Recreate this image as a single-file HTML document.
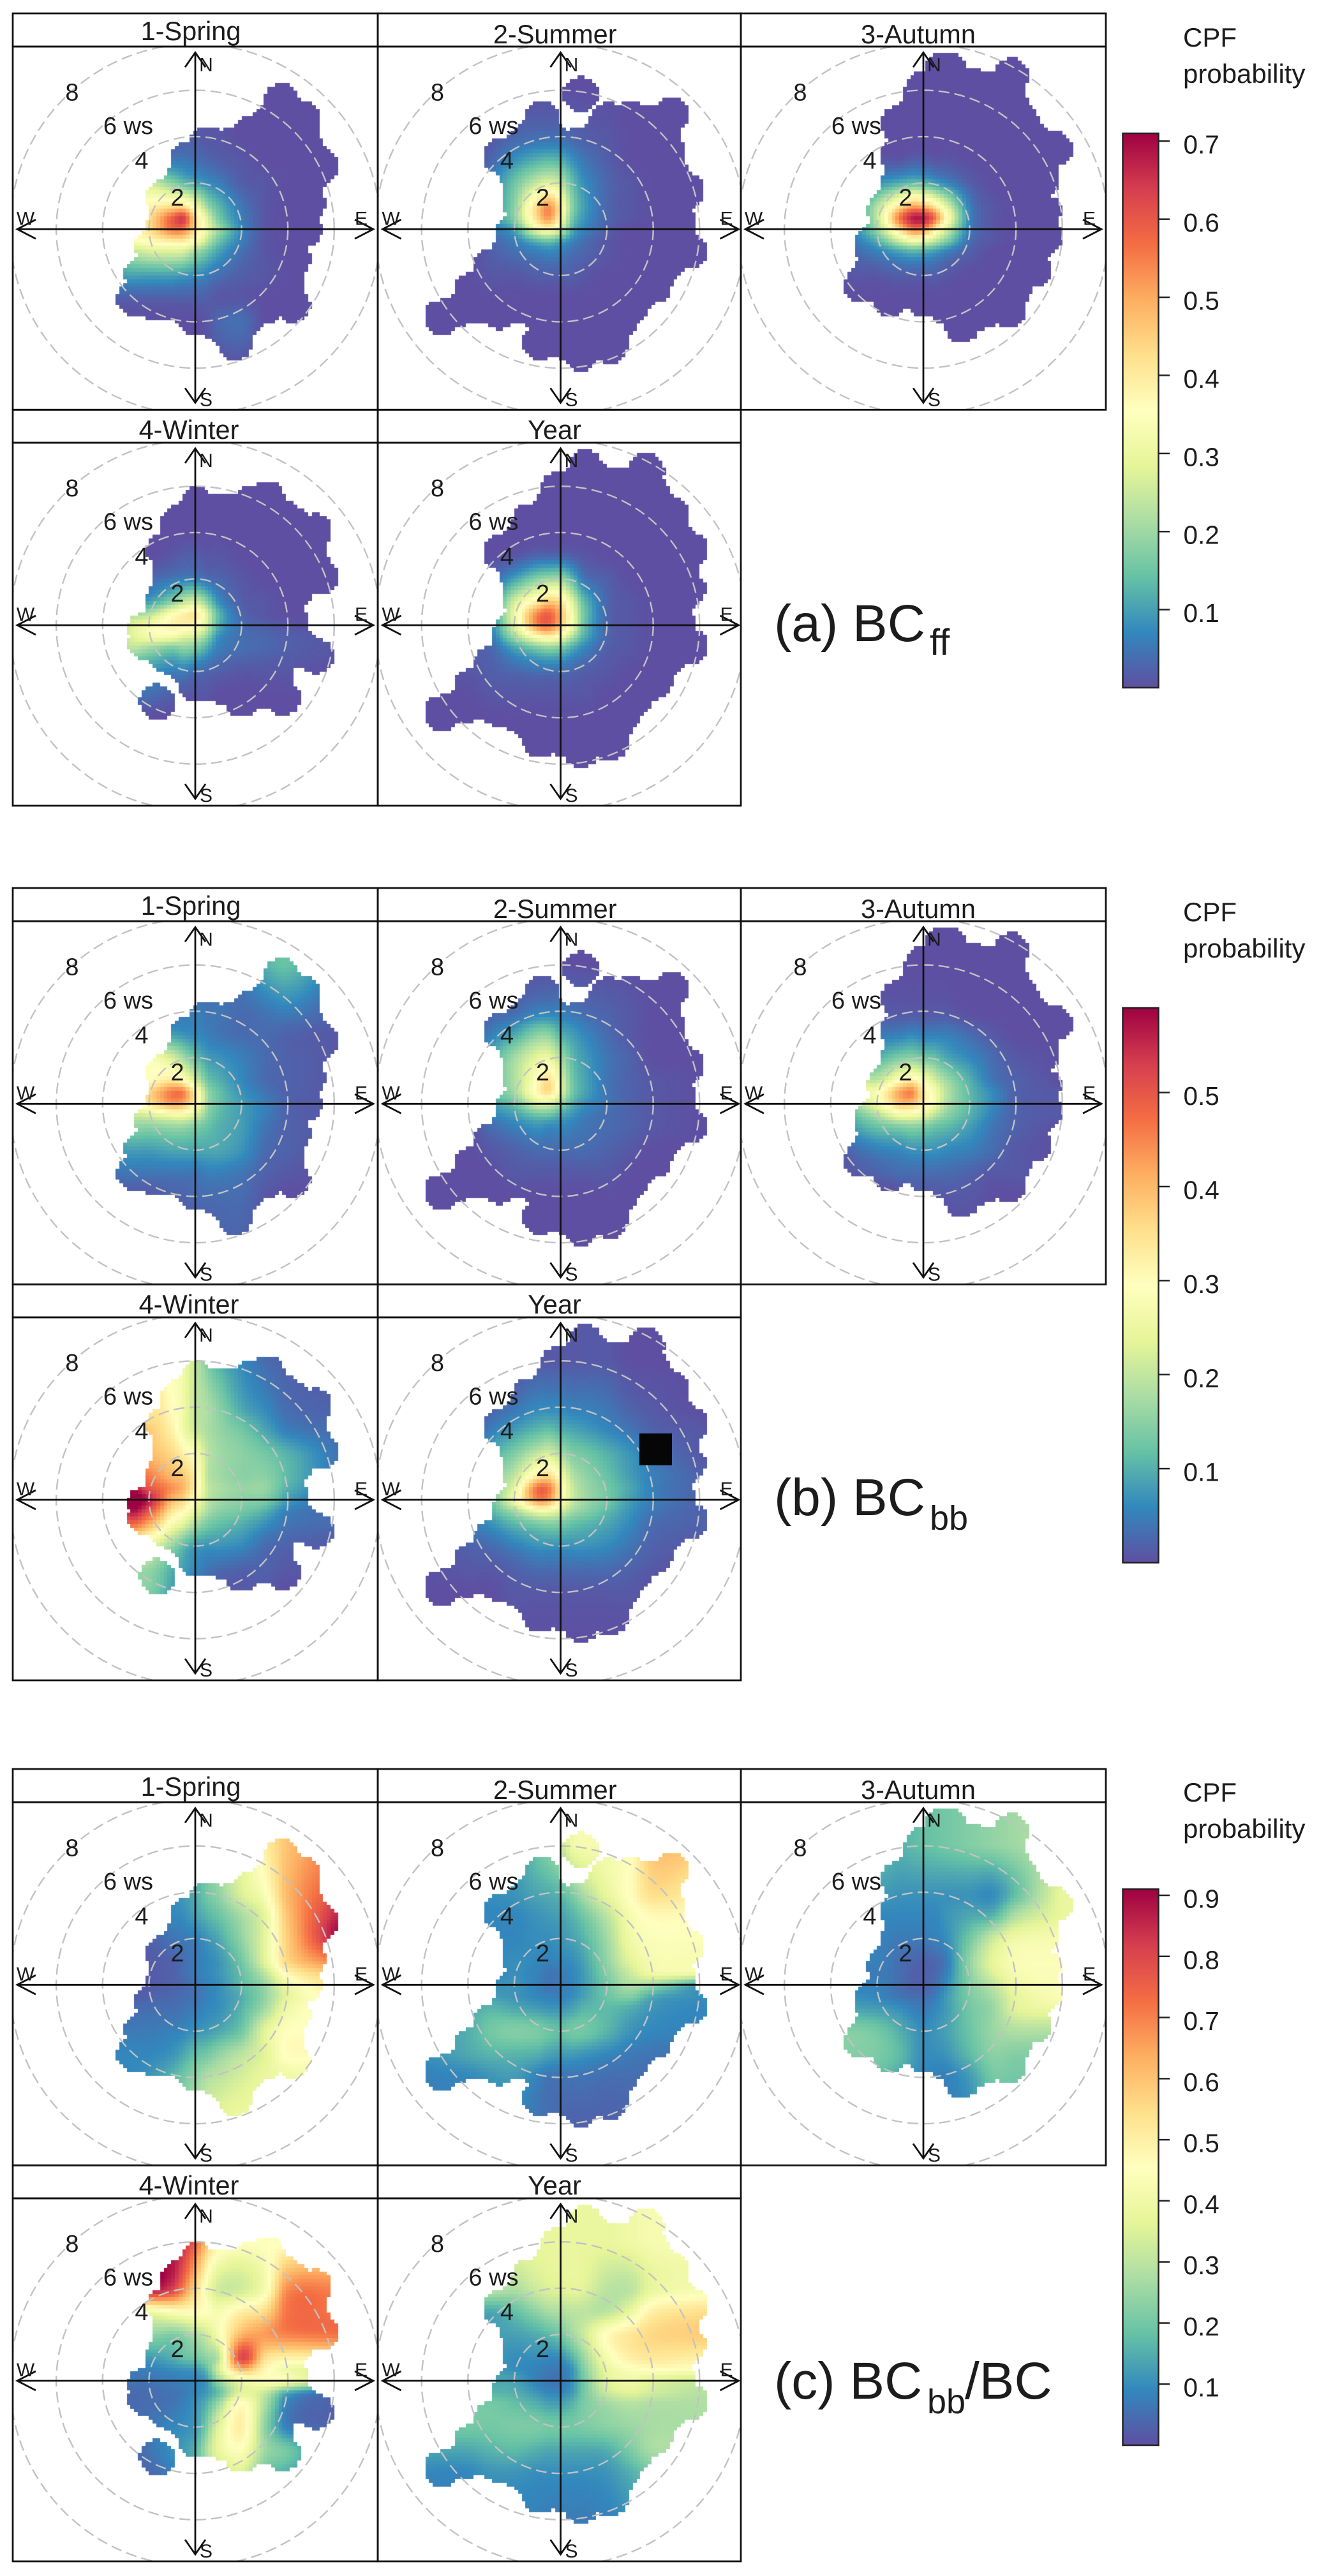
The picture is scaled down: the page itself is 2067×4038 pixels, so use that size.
<!DOCTYPE html>
<html lang="en">
<head>
<meta charset="utf-8">
<title>CPF probability polar plots of BC sources</title>
<style>
html,body{margin:0;padding:0;background:#fff;}
#stage{position:relative;width:2067px;height:4038px;overflow:hidden;background:#fff;}
#stage canvas{position:absolute;display:block;}
#overlay{position:absolute;left:0;top:0;}
text{font-family:"Liberation Sans",sans-serif;fill:#1c1c1c;}
</style>
</head>
<body>
<div id="stage">
<svg id="overlay" width="2067" height="4038" viewBox="0 0 2067 4038" xmlns="http://www.w3.org/2000/svg">
  <defs>
    <linearGradient id="spectralBar" x1="0" y1="1" x2="0" y2="0"></linearGradient>
  </defs>
  <text x="1854" y="73" font-size="42">CPF</text>
  <text x="1854" y="130" font-size="42">probability</text>
  <text x="1854" y="1444" font-size="42">CPF</text>
  <text x="1854" y="1501" font-size="42">probability</text>
  <text x="1854" y="2824" font-size="42">CPF</text>
  <text x="1854" y="2881" font-size="42">probability</text>

  <text x="1213" y="1005" font-size="82">(a) BC</text>
  <text x="1457" y="1027" font-size="58">ff</text>
  <text x="1213" y="2375" font-size="82">(b) BC</text>
  <text x="1457" y="2398" font-size="54">bb</text>
  <text x="1213" y="3760" font-size="82">(c) BC</text>
  <text x="1453" y="3783" font-size="54">bb</text>
  <text x="1512" y="3760" font-size="82">/BC</text>
</svg>
</div>
<script>
// Shared colour ramp (low to high)
const spectral = ['#5E4FA2','#3288BD','#66C2A5','#ABDDA4','#E6F598','#FFFFBF','#FEE08B','#FDAE61','#F46D43','#D53E4F','#9E0142'];

// Wind component nodes (ws units) for the CPF probability tables below
const uNodes = [-6,-4,-3,-2,-1,-0.5,0,0.5,1,2,3,4,6];
const vNodes = [6,4,3,2,1,0.5,0,-0.5,-1,-2,-3,-4,-6];

// Colour-bar scales and ticks
const ffMax = 0.71;
const bbMax = 0.59;
const ratioMax = 0.91;
const ffTicks = [0.1,0.2,0.3,0.4,0.5,0.6,0.7];
const bbTicks = [0.1,0.2,0.3,0.4,0.5];
const ratioTicks = [0.1,0.2,0.3,0.4,0.5,0.6,0.7,0.8,0.9];
const ffTickLabels = ['0.1','0.2','0.3','0.4','0.5','0.6','0.7'];
const bbTickLabels = ['0.1','0.2','0.3','0.4','0.5'];
const ratioTickLabels = ['0.1','0.2','0.3','0.4','0.5','0.6','0.7','0.8','0.9'];

// Panel and ring labels
const seasonTitles = ['1-Spring','2-Summer','3-Autumn','4-Winter','Year'];
const ringSpeeds = [2,4,6,8];
const ringLabels = ['2','4','6 ws','8'];
const compassLabels = ['N','S','W','E'];

// Sampled wind states (u, v in ws) outlining the covered area of each season
const springOutline = [[.53,3.71],[2.31,4.10],[3.72,5.54],[4.63,4.78],[5.42,2.72],[4.88,1.12],[4.73,-.02],[4.21,-1.28],[4.21,-3.27],[3.05,-3.34],[1.72,-4.9],[0,-3.8],[-1.68,-3.23],[-2.63,-3],[-2.31,-1.97],[-1.85,-.71],[-1.37,1.35],[-.32,3.07]];
const summerOutline = [[-.8,4.78],[-.38,3.87],[.88,3.71],[2.04,4.72],[3.09,4.78],[4.77,4.97],[4.67,3.3],[5.45,1.65],[5.09,.32],[5.57,-.96],[4.04,-2.43],[2.14,-5.06],[.88,-5.36],[-.88,-4.9],[-1,-3.57],[-2.69,-3.57],[-5.15,-3.8],[-3.85,-2.66],[-3,-1.63],[-2.1,-.14],[-1.7,1.12],[-2.59,3.14]];
const summerIsland = [[.88,5.81]];
const autumnOutline = [[.84,6.87],[1.16,6.87],[2.12,6.2],[2.93,6.04],[3.81,6.62],[4.21,4.67],[5.69,3.46],[5.1,2.04],[5.18,.78],[5.24,-.3],[4.77,-1.74],[3.65,-3.53],[1.67,-4.14],[0,-3.07],[-1.41,-3],[-2.67,-2.43],[-2.27,-.71],[-1.69,.78],[-1.09,3.18],[-1.09,4.56],[-.05,6.04]];
const winterOutline = [[.1,5.2],[2.31,5.2],[3.09,5.47],[5.15,4.05],[5.42,2.06],[4.31,1.42],[4.16,.16],[5.21,-1.33],[3.78,-1.33],[3.78,-3.16],[2,-3.21],[0,-2.59],[-1.26,-1.33],[-2.14,-.76],[-2.14,-.18],[-1.35,1.19],[-1.35,3.25],[-.74,4.4]];
const winterIsland = [[-1.64,-3.32]];
const yearOutline = [[1.09,6.82],[2.46,6.11],[3.72,6.68],[4.77,4.85],[5.61,3.25],[5.51,1.53],[5.09,.05],[5.61,-.92],[4.04,-2.47],[2.14,-5.11],[.88,-5.4],[-.88,-4.95],[-2.69,-3.62],[-5.15,-3.8],[-3.85,-2.66],[-3,-1.67],[-2.17,-.3],[-1.75,1.19],[-2.59,3.14],[-1.32,4.51],[-.1,5.88]];

// CPF probability (hundredths), rows follow vNodes, columns follow uNodes
const bcffSpring = [
[0,0,0,0,0,0,0,0,0,0,0,0,0],
[0,0,0,0,2,2,2,1,1,0,0,0,0],
[0,0,0,5,5,5,4,3,2,1,0,0,0],
[0,0,20,25,18,14,11,8,6,2,1,0,0],
[0,0,34,38,42,42,32,20,13,5,1,0,0],
[0,0,30,42,58,63,42,28,16,6,1,0,0],
[0,0,32,42,56,55,42,30,20,7,1,0,0],
[0,0,30,36,40,40,34,24,15,6,1,0,0],
[0,0,20,26,27,26,20,15,10,4,1,0,0],
[0,7,10,10,10,9,8,6,4,2,1,0,0],
[0,2,2,2,2,2,2,2,1,1,0,0,0],
[0,0,0,0,0,0,0,1,3,4,0,0,0],
[0,0,0,0,0,0,0,0,0,0,0,0,0]];
const bcffSummer = [
[0,0,0,0,0,0,0,0,0,0,0,0,0],
[0,0,1,3,4,4,4,3,2,1,0,0,0],
[0,0,3,8,12,13,12,8,5,2,0,0,0],
[0,0,6,15,25,28,24,14,8,3,1,0,0],
[0,0,8,18,44,52,38,18,10,3,1,0,0],
[0,0,8,18,44,52,36,16,9,3,1,0,0],
[0,0,5,11,32,36,27,12,7,2,0,0,0],
[0,0,3,6,13,15,11,7,4,1,0,0,0],
[0,0,2,4,6,7,6,4,3,1,0,0,0],
[0,0,1,1,2,2,2,2,1,0,0,0,0],
[0,0,0,0,0,0,0,0,0,0,0,0,0],
[0,0,0,0,0,0,0,0,0,0,0,0,0],
[0,0,0,0,0,0,0,0,0,0,0,0,0]];
const bcffAutumn = [
[0,0,0,0,0,0,0,0,0,0,0,0,0],
[0,0,0,0,0,0,0,0,0,0,0,0,0],
[0,0,0,1,1,2,2,1,1,0,0,0,0],
[0,0,3,8,12,14,13,10,7,2,0,0,0],
[0,0,8,22,42,50,48,40,28,6,1,0,0],
[0,0,8,24,56,67,67,56,36,7,1,0,0],
[0,0,7,20,44,55,54,40,27,6,1,0,0],
[0,0,5,12,26,32,30,24,17,4,1,0,0],
[0,0,3,6,10,12,11,9,6,2,0,0,0],
[0,0,1,1,2,2,2,2,1,0,0,0,0],
[0,0,0,0,0,0,0,0,0,0,0,0,0],
[0,0,0,0,0,0,0,0,0,0,0,0,0],
[0,0,0,0,0,0,0,0,0,0,0,0,0]];
const bcffWinter = [
[0,0,0,0,0,0,0,0,0,0,0,0,0],
[0,0,0,0,0,0,0,0,0,0,0,0,0],
[0,0,0,0,1,2,2,1,1,0,0,0,0],
[0,0,0,3,5,6,6,4,3,1,0,0,0],
[0,0,6,10,18,24,26,18,8,2,1,0,0],
[0,0,18,22,34,38,40,28,13,3,1,0,0],
[0,0,24,32,38,38,36,26,12,4,2,1,0],
[0,0,24,32,32,28,26,18,8,4,3,2,1],
[0,0,22,20,16,18,16,11,6,4,3,2,1],
[0,5,8,8,6,6,4,3,2,1,1,1,0],
[0,5,5,4,2,1,1,1,0,0,0,0,0],
[0,0,0,0,0,0,0,0,0,0,0,0,0],
[0,0,0,0,0,0,0,0,0,0,0,0,0]];
const bcffYear = [
[0,0,0,0,0,0,0,0,0,0,0,0,0],
[0,0,0,0,0,0,0,0,0,0,0,0,0],
[0,0,0,1,3,3,3,2,1,0,0,0,0],
[0,0,3,10,18,20,20,13,5,2,0,0,0],
[0,0,6,26,40,46,42,28,14,3,1,0,0],
[0,0,8,30,54,58,48,32,16,3,1,0,0],
[0,0,7,28,54,57,46,32,15,3,1,0,0],
[0,0,5,20,35,38,33,22,12,3,1,0,0],
[0,2,3,10,16,18,16,11,7,2,1,0,0],
[0,1,2,3,4,4,4,3,2,1,0,0,0],
[0,0,1,1,1,1,1,1,1,0,0,0,0],
[0,0,0,0,0,0,0,0,0,0,0,0,0],
[0,0,0,0,0,0,0,0,0,0,0,0,0]];

const bcbbSpring = [
[0,0,0,0,0,0,0,2,3,5,10,12,5],
[0,0,2,3,4,4,5,4,4,3,4,5,2],
[0,0,6,8,8,7,6,5,4,3,3,2,1],
[0,0,20,27,22,17,12,8,7,5,3,2,1],
[0,0,28,30,34,30,22,13,10,6,3,2,1],
[0,0,28,36,46,45,32,17,12,7,4,2,1],
[0,0,25,34,42,40,31,17,12,8,5,2,1],
[0,0,18,22,26,26,22,15,11,8,5,2,1],
[0,0,14,15,16,16,14,12,10,8,4,2,1],
[0,5,8,8,9,9,9,9,9,7,3,2,0],
[0,3,4,4,4,4,4,5,5,4,2,1,0],
[0,0,1,1,2,2,3,3,3,3,1,0,0],
[0,0,0,0,0,0,0,1,2,2,1,0,0]];
const bcbbSummer = [
[0,0,0,0,0,0,0,0,0,0,0,0,0],
[0,0,2,3,5,5,5,4,3,2,1,0,0],
[0,0,5,9,15,15,10,8,6,3,1,0,0],
[0,0,9,17,24,25,18,11,8,4,2,0,0],
[0,0,11,18,30,35,24,13,9,4,2,1,0],
[0,0,11,17,31,35,24,13,9,4,2,1,0],
[0,0,8,12,22,22,16,10,7,4,2,1,0],
[0,0,5,8,12,12,9,7,5,3,2,1,0],
[0,0,3,5,7,6,6,5,4,3,2,1,0],
[0,0,1,2,3,3,3,3,3,2,1,0,0],
[0,0,0,1,1,1,1,1,1,1,0,0,0],
[0,0,0,0,0,0,0,0,0,0,0,0,0],
[0,0,0,0,0,0,0,0,0,0,0,0,0]];
const bcbbAutumn = [
[0,0,0,0,0,0,0,0,0,0,0,0,0],
[0,0,0,1,1,1,1,1,1,0,0,0,0],
[0,0,0,4,5,6,5,5,5,3,1,0,0],
[0,0,6,10,14,15,13,12,9,6,3,1,0],
[0,0,20,20,30,33,28,22,17,10,4,2,0],
[0,0,22,28,42,45,33,27,19,11,6,2,1],
[0,0,16,26,38,38,32,26,18,11,6,2,1],
[0,0,11,18,26,26,24,19,15,10,5,2,1],
[0,0,8,12,14,15,14,12,11,8,4,2,0],
[0,0,3,5,6,7,7,7,6,5,3,1,0],
[0,0,1,2,3,3,3,3,3,2,1,1,0],
[0,0,0,0,0,1,1,1,1,1,0,0,0],
[0,0,0,0,0,0,0,0,0,0,0,0,0]];
const bcbbWinter = [
[0,0,0,30,28,26,20,14,10,6,3,2,1],
[0,0,0,32,30,26,20,18,15,9,6,3,2],
[0,0,40,38,32,26,21,18,16,13,9,5,3],
[0,0,44,40,36,32,28,20,17,15,13,10,4],
[0,0,50,46,40,38,32,20,17,15,15,11,4],
[0,0,54,50,44,40,32,21,18,16,16,10,4],
[0,0,58,56,40,36,28,20,17,15,14,8,3],
[0,0,54,50,34,30,24,18,15,13,10,5,3],
[0,0,46,42,28,24,18,14,12,10,7,4,3],
[0,20,28,24,16,11,8,7,7,6,3,2,1],
[0,15,16,16,10,8,6,4,3,2,2,1,1],
[0,12,14,14,8,5,3,2,1,1,1,0,0],
[0,0,0,0,0,0,0,0,0,0,0,0,0]];
const bcbbYear = [
[0,0,0,0,1,1,1,1,1,1,0,0,0],
[0,0,2,4,6,6,6,5,5,4,2,1,0],
[0,0,5,8,11,12,10,9,8,6,4,2,1],
[0,0,9,14,20,22,18,14,13,10,7,4,1],
[0,0,14,20,34,36,28,19,16,12,8,5,2],
[0,0,14,24,47,46,32,21,17,13,9,5,2],
[0,0,12,26,44,42,30,21,17,13,8,5,2],
[0,0,10,17,26,26,22,17,15,11,7,4,2],
[0,4,7,11,14,15,14,12,11,9,6,3,2],
[0,2,3,5,7,7,7,7,7,6,4,2,1],
[0,1,1,2,3,3,3,3,3,3,2,1,0],
[0,0,0,1,1,1,1,1,1,1,1,0,0],
[0,0,0,0,0,0,0,0,0,0,0,0,0]];

const ratioSpring = [
[5,5,5,8,12,15,18,22,28,36,50,60,70],
[5,5,8,9,10,12,15,20,24,35,44,62,78],
[5,4,6,7,9,10,13,16,19,27,37,60,85],
[3,3,3,3,6,7,8,11,14,24,37,58,88],
[2,2,2,2,3,5,7,9,11,20,36,56,70],
[2,2,2,2,3,5,7,9,11,18,30,48,60],
[2,2,2,2,3,4,6,8,10,17,25,40,55],
[2,2,2,3,4,5,6,8,10,15,24,37,50],
[3,3,4,5,5,6,7,9,10,16,26,40,48],
[5,6,7,7,8,9,11,12,14,20,36,45,45],
[8,8,9,9,11,14,18,20,24,30,36,46,45],
[8,8,9,11,16,20,24,28,30,34,38,40,40],
[8,8,10,14,20,25,30,34,38,40,40,40,40]];
const ratioSummer = [
[10,10,10,12,20,24,30,40,42,42,45,60,60],
[10,10,10,11,14,15,17,22,28,38,46,55,50],
[9,9,9,9,11,12,13,16,20,30,42,47,47],
[9,9,9,9,10,10,11,13,16,26,40,44,44],
[9,9,9,10,9,8,9,10,13,24,36,42,42],
[9,9,9,10,8,6,7,9,12,22,32,40,40],
[9,9,10,11,8,6,7,9,12,20,28,25,12],
[10,10,12,11,9,8,8,10,13,19,22,14,10],
[12,14,16,14,12,11,11,13,16,17,15,11,9],
[12,15,20,22,21,19,18,20,20,16,11,9,8],
[10,14,16,16,15,13,12,12,11,9,7,6,6],
[8,9,11,12,8,6,6,6,6,5,5,5,5],
[8,8,8,8,6,5,4,3,3,3,3,3,3]];
const ratioAutumn = [
[18,18,18,18,16,17,18,19,20,22,24,26,30],
[10,10,10,12,11,11,11,11,11,11,10,18,38],
[8,8,8,9,9,9,9,9,11,14,16,28,38],
[7,7,7,8,7,7,7,8,10,20,32,40,42],
[6,6,6,8,5,4,3,4,7,24,37,43,44],
[6,6,6,7,5,3,3,4,8,23,35,42,44],
[8,8,8,8,5,3,3,5,10,22,30,40,44],
[10,10,10,9,6,5,5,7,12,21,27,37,44],
[14,14,13,12,10,8,7,9,12,20,25,36,40],
[22,22,22,20,15,12,10,11,13,19,25,28,28],
[22,22,22,21,17,13,10,10,11,17,23,22,22],
[20,20,20,18,14,11,9,8,8,12,20,20,20],
[15,15,15,15,12,10,8,8,8,10,15,15,15]];
const ratioWinter = [
[50,50,70,85,88,85,75,60,50,45,45,45,50],
[50,50,80,88,82,70,56,42,33,33,42,68,70],
[30,30,35,40,45,46,46,45,42,50,55,72,72],
[15,15,20,24,22,24,28,33,42,62,66,70,72],
[8,8,10,12,15,18,20,24,30,80,55,50,50],
[6,6,7,8,10,11,12,18,34,62,48,40,35],
[5,5,6,6,7,8,9,12,25,40,45,42,25],
[4,4,4,5,6,7,9,12,18,36,32,15,5],
[3,3,4,5,6,8,11,16,26,46,28,8,3],
[2,3,4,6,9,10,12,22,36,50,24,8,3],
[2,3,3,6,10,12,16,28,38,44,26,20,5],
[2,2,2,4,8,12,16,24,30,35,20,15,5],
[2,2,2,4,8,12,16,24,30,35,20,15,5]];
const ratioYear = [
[38,38,38,38,38,38,38,38,38,38,40,42,42],
[30,30,30,28,33,35,36,37,36,30,30,38,42],
[15,15,14,18,24,27,28,30,30,30,38,50,54],
[14,14,13,13,15,17,20,26,32,46,52,56,58],
[12,12,12,10,10,9,10,16,25,42,50,52,50],
[12,12,12,10,8,7,7,11,22,38,44,46,44],
[14,14,14,13,8,6,6,11,20,36,40,36,32],
[16,16,16,15,11,9,9,12,20,32,36,33,29],
[20,20,20,18,15,13,13,16,21,26,29,28,28],
[20,20,20,21,21,20,20,20,21,23,25,27,27],
[14,14,16,17,15,14,14,14,14,15,21,27,27],
[9,9,11,11,10,10,10,10,10,11,15,20,20],
[8,8,8,8,8,7,7,7,7,8,10,10,10]];

// ---------- layout ----------
const PX_PER_WS = 36.3;
const GRID_HALF = 8;
const GRID_STEPS = 100;
const MASK_RADIUS = 0.77;
const EDGE_RADIUS = 0.46;
const colX = [20,592,1161,1733];
const rowTop = [21,642.3];
const stripBottom = [73,694];
const rowBottom = [642.3,1263];
const centerX = [306,878.5,1447];
const centerY = [359.3,980];
const titleLayout = [[299,63],[869.7,68],[1439,68],[296,688],[869,688]];
const seasonLayout = [[0,0],[1,0],[2,0],[0,1],[1,1]];
const seasonKeys = ['spring','summer','autumn','winter','year'];
const seasonMasks = [[springOutline],[summerOutline,summerIsland],[autumnOutline],[winterOutline,winterIsland],[yearOutline]];

const groups = [
  {key:'a',dy:0,max:ffMax,barTop:209,barBottom:1078,ticks:ffTicks,labels:ffTickLabels,tables:[bcffSpring,bcffSummer,bcffAutumn,bcffWinter,bcffYear]},
  {key:'b',dy:1371,max:bbMax,barTop:1580,barBottom:2449.5,ticks:bbTicks,labels:bbTickLabels,tables:[bcbbSpring,bcbbSummer,bcbbAutumn,bcbbWinter,bcbbYear]},
  {key:'c',dy:2752,max:ratioMax,barTop:2961.4,barBottom:3833,ticks:ratioTicks,labels:ratioTickLabels,tables:[ratioSpring,ratioSummer,ratioAutumn,ratioWinter,ratioYear]}
];

// ---------- helpers ----------
const SVGNS = 'http://www.w3.org/2000/svg';
const stage = document.getElementById('stage');
const overlay = document.getElementById('overlay');
function svgEl(tag, attrs, parent) {
  const el = document.createElementNS(SVGNS, tag);
  for (const k in attrs) el.setAttribute(k, attrs[k]);
  (parent || overlay).appendChild(el);
  return el;
}
function hexRgb(h) {
  return [parseInt(h.slice(1,3),16),parseInt(h.slice(3,5),16),parseInt(h.slice(5,7),16)];
}
const rampRgb = spectral.map(hexRgb);
function colorOf(value, max) {
  const t = Math.max(0, Math.min(1, value / max)) * (rampRgb.length - 1);
  const i = Math.min(rampRgb.length - 2, Math.floor(t));
  const f = t - i;
  const a = rampRgb[i], b = rampRgb[i + 1];
  return 'rgb(' + Math.round(a[0] + (b[0] - a[0]) * f) + ',' + Math.round(a[1] + (b[1] - a[1]) * f) + ',' + Math.round(a[2] + (b[2] - a[2]) * f) + ')';
}
function curve(nodes, vals, x) {
  const n = nodes.length;
  if (x <= nodes[0]) return vals[0];
  if (x >= nodes[n - 1]) return vals[n - 1];
  let i = 0;
  while (x > nodes[i + 1]) i++;
  const h = nodes[i + 1] - nodes[i];
  const t = (x - nodes[i]) / h;
  const m0 = i > 0 ? (vals[i + 1] - vals[i - 1]) / (nodes[i + 1] - nodes[i - 1]) : (vals[i + 1] - vals[i]) / h;
  const m1 = i < n - 2 ? (vals[i + 2] - vals[i]) / (nodes[i + 2] - nodes[i]) : (vals[i + 1] - vals[i]) / h;
  const t2 = t * t, t3 = t2 * t;
  return (2 * t3 - 3 * t2 + 1) * vals[i] + (t3 - 2 * t2 + t) * h * m0 + (-2 * t3 + 3 * t2) * vals[i + 1] + (t3 - t2) * h * m1;
}
const vAscending = vNodes.map(function (v) { return -v; });
function insidePolygon(poly, u, v) {
  let inside = false;
  for (let i = 0, j = poly.length - 1; i < poly.length; j = i++) {
    const a = poly[i], b = poly[j];
    if ((a[1] > v) !== (b[1] > v) && u < (b[0] - a[0]) * (v - a[1]) / (b[1] - a[1]) + a[0]) inside = !inside;
  }
  return inside;
}
function nearEdge(a, b, u, v) {
  const dx = b[0] - a[0], dy = b[1] - a[1];
  const t = Math.max(0, Math.min(1, ((u - a[0]) * dx + (v - a[1]) * dy) / (dx * dx + dy * dy)));
  const px = a[0] + t * dx - u, py = a[1] + t * dy - v;
  return px * px + py * py < EDGE_RADIUS * EDGE_RADIUS;
}
function covered(mask, u, v) {
  for (const poly of mask) {
    for (let i = 0; i < poly.length; i++) {
      const p = poly[i];
      const du = p[0] - u, dv = p[1] - v;
      if (du * du + dv * dv < MASK_RADIUS * MASK_RADIUS) return true;
      if (poly.length > 2 && nearEdge(p, poly[(i + 1) % poly.length], u, v)) return true;
    }
    if (poly.length > 2 && insidePolygon(poly, u, v)) return true;
  }
  return false;
}

// ---------- colour bar gradient ----------
const gradient = overlay.querySelector('#spectralBar');
spectral.forEach(function (c, i) {
  const stop = document.createElementNS(SVGNS, 'stop');
  stop.setAttribute('offset', (i / (spectral.length - 1) * 100) + '%');
  stop.setAttribute('stop-color', c);
  gradient.appendChild(stop);
});

// ---------- heatmap ----------
function drawHeatmap(group, s) {
  const col = seasonLayout[s][0], row = seasonLayout[s][1];
  const left = colX[col], right = colX[col + 1];
  const top = Math.round(stripBottom[row] + group.dy), bottom = Math.round(rowBottom[row] + group.dy);
  const cx = centerX[col], cy = centerY[row] + group.dy;
  const xScale = function (u) { return cx + u * PX_PER_WS - left; };
  const yScale = function (v) { return cy - v * PX_PER_WS - top; };
  const canvas = document.createElement('canvas');
  
  
  canvas.width = right - left;
  canvas.height = bottom - top;
  canvas.style.left = left + 'px';
  canvas.style.top = top + 'px';
  stage.insertBefore(canvas, overlay);
  const ctx = canvas.getContext('2d');
  const table = group.tables[s];
  const mask = seasonMasks[s];
  const step = 2 * GRID_HALF / GRID_STEPS;
  for (let i = 0; i <= GRID_STEPS; i++) {
    const u = -GRID_HALF + i * step;
    const column = table.map(function (r) { return curve(uNodes, r, u); });
    const x0 = Math.round(xScale(u - step / 2)), x1 = Math.round(xScale(u + step / 2));
    for (let j = 0; j <= GRID_STEPS; j++) {
      const v = -GRID_HALF + j * step;
      if (!covered(mask, u, v)) continue;
      const p = curve(vAscending, column, -v) / 100;
      const y0 = Math.round(yScale(v + step / 2)), y1 = Math.round(yScale(v - step / 2));
      ctx.fillStyle = colorOf(p, group.max);
      ctx.fillRect(x0, y0, x1 - x0, y1 - y0);
    }
  }
}

// ---------- panel furniture ----------
function drawPanel(group, s) {
  const dy = group.dy;
  const col = seasonLayout[s][0], row = seasonLayout[s][1];
  const left = colX[col], right = colX[col + 1];
  const top = rowTop[row] + dy, strip = stripBottom[row] + dy, bottom = rowBottom[row] + dy;
  const cx = centerX[col], cy = centerY[row] + dy;
  const prefix = group.key + '-' + seasonKeys[s];
  const clipId = 'clip-' + prefix;

  const clip = svgEl('clipPath', {id: clipId});
  svgEl('rect', {x: left, y: strip, width: right - left, height: bottom - strip}, clip);

  const rings = svgEl('g', {'clip-path': 'url(#' + clipId + ')'});
  
  
  ringSpeeds.forEach(function (ws) {
    const ring = svgEl('circle', {cx: cx, cy: cy, r: ws * PX_PER_WS, fill: 'none', stroke: '#c2c2c2', 'stroke-width': 2.4, 'stroke-dasharray': '17 8'}, rings);
    
    
  });

  const strokeBlack = {stroke: '#111', 'stroke-width': 2.8, fill: 'none'};
  const axes = [
    ['north-south-axis', 'M' + cx + ' ' + (cy - 277) + 'L' + cx + ' ' + (cy + 272) + 'M' + (cx - 16) + ' ' + (cy - 254) + 'L' + cx + ' ' + (cy - 277) + 'L' + (cx + 16) + ' ' + (cy - 254) + 'M' + (cx - 16) + ' ' + (cy + 249) + 'L' + cx + ' ' + (cy + 272) + 'L' + (cx + 16) + ' ' + (cy + 249)],
    ['west-east-axis', 'M' + (cx - 279) + ' ' + cy + 'L' + (cx + 279) + ' ' + cy + 'M' + (cx - 250) + ' ' + (cy - 15) + 'L' + (cx - 279) + ' ' + cy + 'L' + (cx - 250) + ' ' + (cy + 15) + 'M' + (cx + 250) + ' ' + (cy - 15) + 'L' + (cx + 279) + ' ' + cy + 'L' + (cx + 250) + ' ' + (cy + 15)]
  ];
  axes.forEach(function (a) {
    const path = svgEl('path', Object.assign({d: a[1]}, strokeBlack));
    
    
  });

  const compassOffsets = [[17, -248], [17, 277], [-266, -7], [260, -7]];
  compassLabels.forEach(function (label, i) {
    const t = svgEl('text', {x: cx + compassOffsets[i][0], y: cy + compassOffsets[i][1], 'font-size': 30, 'text-anchor': 'middle'});
    
    
    t.textContent = label;
  });

  const ringLabelOffsets = [[-28, -37], [-84, -95], [-105, -149.5], [-193, -202]];
  ringLabels.forEach(function (label, i) {
    const t = svgEl('text', {x: cx + ringLabelOffsets[i][0], y: cy + ringLabelOffsets[i][1], 'font-size': 38, 'text-anchor': 'middle'});
    
    
    t.textContent = label;
  });

  const stripRect = svgEl('rect', Object.assign({x: left, y: top, width: right - left, height: strip - top}, strokeBlack));
  
  
  const frame = svgEl('rect', Object.assign({x: left, y: strip, width: right - left, height: bottom - strip}, strokeBlack));
  
  

  const title = svgEl('text', {x: titleLayout[s][0], y: titleLayout[s][1] + dy, 'font-size': 41.5, 'text-anchor': 'middle'});
  
  
  title.textContent = seasonTitles[s];
}

// ---------- colour bar ----------
function drawColorbar(group) {
  const barLeft = 1759.5, barRight = 1815.5, tickEnd = 1833;
  const yScale = function (v) { return group.barBottom - v / group.max * (group.barBottom - group.barTop); };
  const bar = svgEl('rect', {x: barLeft, y: group.barTop, width: barRight - barLeft, height: group.barBottom - group.barTop, fill: 'url(#spectralBar)', stroke: '#222', 'stroke-width': 2.5});
  
  
  group.ticks.forEach(function (v, i) {
    const tick = svgEl('line', {x1: barRight, x2: tickEnd, y1: yScale(v), y2: yScale(v), stroke: '#222', 'stroke-width': 2.5});
    
    
    const label = svgEl('text', {x: 1854.5, y: yScale(v) + 19.5, 'font-size': 40.5});
    
    
    label.textContent = group.labels[i];
  });
}

groups.forEach(function (group) {
  seasonTitles.forEach(function (name, s) {
    drawHeatmap(group, s);
    drawPanel(group, s);
  });
  drawColorbar(group);
});

// Black square printed over the BCbb Year panel
const redaction = svgEl('rect', {x: 1002, y: 2247, width: 51, height: 50, fill: '#060606'});


</script>
</body>
</html>
